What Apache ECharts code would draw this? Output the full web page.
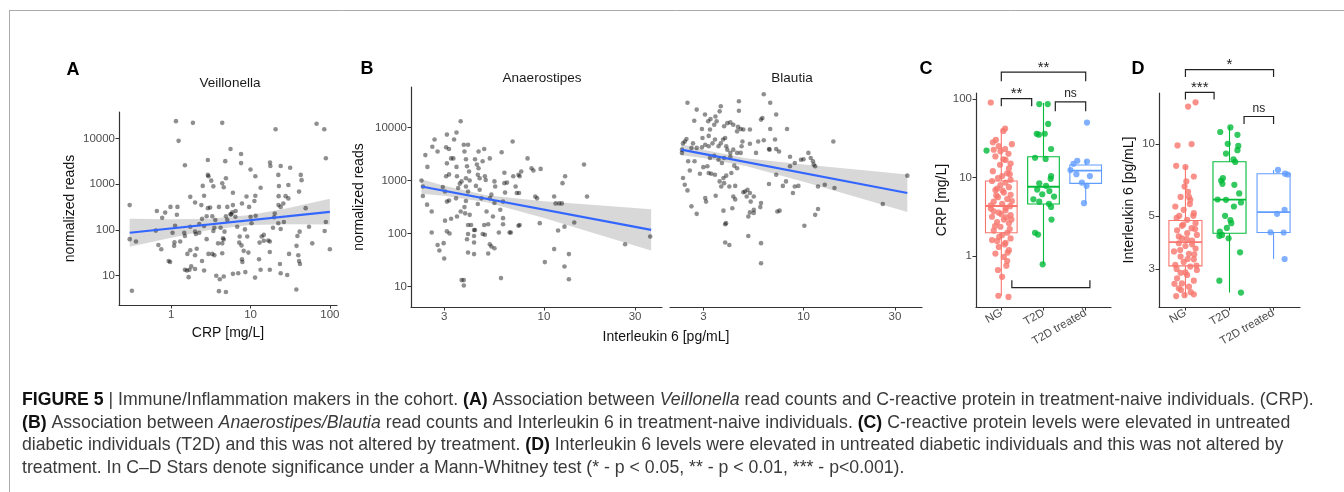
<!DOCTYPE html>
<html>
<head>
<meta charset="utf-8">
<script src="https://cdn.jsdelivr.net/npm/echarts@6/dist/echarts.min.js"></script>
<style>
  html, body { margin: 0; padding: 0; background: #fff; }
  #chart { width: 1344px; height: 492px; }
</style>
</head>
<body>
<div id="chart"></div>
<script>
// ---- data ----
// A: Veillonella reads vs CRP  [CRP mg/L, normalized reads]
const veillonellaPoints = [
  [0.30,350],[0.30,63],[0.36,56],[0.32,4.7],[1.15,24000],[1.88,22000],[4.4,22000],[1.24,8900],[20.7,16000],[68,21000],
  [85,16000],[89,3700],[5.6,5900],[7.6,4600],[1.49,2600],[2.9,3400],[4.8,3200],[7.6,2900],[10,2100],[11.5,1500],
  [17.6,3000],[17.8,2500],[24,2500],[31.6,2300],[2.9,1600],[2.95,1500],[3.2,1200],[3.4,900],[2.5,920],[1.74,530],
  [2.6,560],[4.4,1050],[4.6,860],[4.9,1350],[6.0,650],[8.9,540],[11.5,560],[13.4,840],[11.2,430],[9.6,320],
  [7.8,380],[6.0,350],[5.1,320],[5.9,245],[5.6,220],[6.5,260],[4.0,320],[3.1,310],[2.9,300],[2.4,350],
  [2.0,400],[1.2,320],[0.98,320],[1.18,215],[0.84,240],[0.66,260],[0.77,185],[0.64,97],[0.69,47],[0.75,38],
  [0.93,21],[0.97,20],[1.1,54],[1.04,87],[1.09,45],[1.3,56],[1.46,87],[1.49,74],[1.49,13.5],[1.58,13],
  [1.66,9.3],[1.7,13.5],[1.74,36],[1.6,30],[2.0,92],[2.05,82],[2.0,28],[2.1,39],[2.0,14],[2.45,21],
  [2.45,175],[2.6,122],[2.8,63],[2.6,13],[2.95,30],[3.3,30],[3.5,28],[3.7,10],[4.1,8.4],[4.6,9.6],
  [4.4,51],[4.5,66],[4.6,62],[4.7,92],[5.1,165],[4.9,200],[4.2,112],[3.9,51],[4.4,31],[4.0,4.6],
  [4.9,4.4],[6.0,11],[7.0,11.3],[7.3,72],[7.2,53],[7.7,46],[7.8,23],[7.9,20],[8.2,35],[8.5,103],
  [9.1,72],[9.4,32],[8.6,12],[11.4,9.1],[12.8,23],[13,53],[13.8,72],[14.7,78],[14.7,58],[13.4,13.5],
  [16.7,59],[17.5,56],[17.5,33],[17.5,13.5],[19.2,112],[19.8,190],[20.2,230],[22.5,350],[24,320],[25.9,380],
  [22.4,140],[24,105],[26.3,150],[23.5,18],[24,11.3],[29,10.4],[30.6,30],[30,490],[30,960],[22.8,910],
  [22.4,1600],[22.6,550],[27.7,550],[39,74],[41.6,92],[38,45],[40,28],[40.9,21],[42,18],[37.8,5.0],
  [40.9,690],[44,1230],[43,1600],[49.5,300],[54.6,118],[60,51],[86,95],[89,150],[100,38],[11.6,205],
  [10,195],[10.3,140],[6.45,195],[5.7,220],[6.8,118],[2.8,200],[3.3,200],[3.6,165],[3.5,112],[3.4,95],
  [2.26,135],[2.26,87],[1.74,118],[1.12,124],[1.79,16]
];
const veillonellaFit = [[0.3, 87], [100, 250]];
const veillonellaBandX = [0.3, 1, 3, 10, 30, 100];
const veillonellaBandLow = [43, 68, 100, 128, 134, 132];
const veillonellaBandHigh = [176, 172, 175, 212, 303, 479];

// B: Anaerostipes / Blautia reads vs IL-6  [IL-6 pg/mL, normalized reads]
const anaerostipesPoints = [
  [2.28,1000],[2.32,510],[2.32,770],[2.39,3000],[2.45,1800],[2.44,350],[2.58,260],[2.58,105],[2.6,4300],[2.67,5900],
  [2.77,3500],[2.77,61],[2.83,48],[3.0,34],[2.98,66],[3.1,7300],[3.07,4200],[3.18,3900],[3.1,2100],[3.26,2600],
  [3.07,1200],[3.18,1300],[2.95,750],[3.03,620],[3.1,400],[3.18,420],[3.03,175],[3.1,110],[3.2,100],[3.26,190],
  [3.38,5900],[3.48,8000],[3.35,2600],[3.48,1800],[3.5,1200],[3.55,720],[3.62,870],[3.46,460],[3.5,210],[3.66,260],
  [3.66,13000],[3.7,960],[3.7,13.3],[3.8,13.3],[3.8,10.5],[3.8,4700],[4.0,4700],[3.83,3500],[3.9,2500],[3.95,1850],
  [4.05,1470],[3.9,1100],[4.08,1000],[3.9,770],[4.0,620],[3.9,410],[3.83,315],[3.86,240],[4.08,225],[4.0,145],
  [4.15,145],[4.3,117],[4.35,117],[4.0,98],[3.95,78],[4.3,68],[4.3,90],[4.0,44],[4.3,41],[4.35,2500],
  [4.54,3500],[4.45,2000],[4.54,1700],[4.5,1280],[4.6,1100],[4.4,790],[4.6,670],[4.7,460],[4.5,360],[4.86,3900],
  [4.77,2300],[4.9,1200],[4.95,1020],[5.0,260],[5.1,150],[4.86,145],[4.77,98],[4.9,95],[5.1,42],[5.2,63],
  [5.3,57],[5.5,53],[5.2,2600],[5.3,540],[5.2,460],[5.4,210],[5.5,960],[5.55,770],[5.5,375],[5.8,105],
  [5.9,280],[5.95,14.5],[6.0,3400],[6.2,1400],[6.2,890],[6.25,590],[6.1,400],[6.1,195],[6.1,150],[6.4,910],
  [6.6,105],[6.7,105],[6.85,5400],[6.9,1200],[7.1,770],[7.2,580],[7.35,1280],[7.45,1200],[7.6,1470],[7.4,580],
  [7.45,145],[7.35,140],[8.2,2600],[8.8,1540],[8.6,1700],[9.6,1650],[9.0,500],[9.2,460],[9.5,157],[10.1,29],
  [11.3,500],[11.3,51],[11.5,370],[11.85,114],[12,370],[12.4,370],[12.8,24],[12.8,135],[12.5,890],[12.9,1200],
  [13.5,41],[13.5,13.8],[14.4,162],[16.2,2000],[16.8,500],[26.6,63],[36,88]
];
const anaerostipesFit = [[2.28, 770], [36.4, 117]];
const anaerostipesBandX = [2.28, 3, 5, 10, 20, 36.4];
const anaerostipesBandLow = [561, 515, 390, 196, 92, 48];
const anaerostipesBandHigh = [1059, 794, 524, 407, 337, 288];

const blautiaPoints = [
  [2.48,29000],[2.77,21600],[2.69,13300],[3.06,17500],[3.18,13000],[3.27,14400],[3.47,16000],[3.7,25000],[3.65,20000],[3.52,13000],
  [3.42,11200],[2.95,9300],[3.25,9100],[3.85,10500],[4.0,12000],[4.15,12400],[4.3,11200],[4.55,10200],[4.7,9300],[4.85,9100],
  [4.5,8400],[4.6,31000],[4.6,20500],[5.25,9100],[6.2,42000],[6.7,29000],[7.2,17500],[6.7,9300],[6.0,14000],[6.1,15000],
  [8.2,9300],[7.1,5900],[7.2,3900],[7.45,3500],[6.6,3900],[6.65,3800],[6.2,5700],[5.8,5400],[5.65,3300],[5.25,4900],
  [4.8,5400],[4.75,4400],[4.7,3300],[4.5,3300],[4.3,3800],[4.15,3300],[4.0,3800],[3.95,4400],[3.8,5900],[3.9,6300],
  [3.7,5000],[3.6,4400],[3.45,5900],[3.35,5000],[3.2,4400],[3.07,4700],[2.95,4200],[2.77,4100],[2.65,5000],[2.45,6000],
  [2.4,5400],[2.35,5000],[2.32,3800],[2.32,3300],[2.6,4100],[2.97,6300],[3.2,6900],[2.5,2300],[2.7,2300],[3.0,1780],
  [3.15,1850],[3.25,2650],[3.42,2900],[3.6,2450],[3.75,2130],[3.85,2650],[4.15,2800],[4.35,1900],[4.5,1700],[4.2,1380],
  [3.95,1230],[3.82,1110],[3.2,1380],[2.88,1340],[2.55,1540],[2.35,1110],[2.4,830],[2.48,650],[3.3,1340],[3.45,1280],
  [3.65,960],[3.72,770],[3.85,890],[4.1,770],[4.4,790],[4.3,500],[4.4,440],[4.85,600],[4.95,620],[5.1,670],
  [5.25,580],[5.5,500],[5.05,500],[5.3,400],[5.5,280],[5.5,245],[5.25,250],[5.15,210],[6.0,375],[5.95,315],
  [6.6,860],[7.2,1280],[7.5,270],[7.3,260],[7.8,790],[8.1,960],[8.5,2800],[9.0,2130],[8.5,1850],[8.8,580],
  [9.0,770],[9.4,790],[9.7,2450],[10,2500],[10.6,3300],[10.9,2650],[11.2,2300],[11.5,1850],[11.3,2000],[11.9,770],
  [12.9,830],[14.5,720],[11.9,290],[11.5,225],[10.1,140],[14.3,5400],[25.9,360],[34.8,1230],[6.0,66],[5.15,90],
  [3.94,157],[3.9,150],[3.9,68],[4.1,61],[3.82,270],[4.25,300],[2.77,235],[2.6,325],[3.07,465],[3.1,400],
  [3.48,515],[6.0,27.6]
];
const blautiaFit = [[2.3, 3800], [34.8, 580]];
const blautiaBandX = [2.3, 3, 5, 10, 20, 34.8];
const blautiaBandLow = [2970, 2650, 1880, 946, 457, 254];
const blautiaBandHigh = [4860, 3770, 2620, 1990, 1570, 1300];

// C / D: groups, jitter offset from group centre + measured value
const groups = ['NG', 'T2D', 'T2D treated'];
const groupColors = ['#F8766D', '#00BA38', '#619CFF'];

const crpNG = [
  [-0.25,90],[0.09,42],[0.05,39],[-0.13,30],[0.25,26.5],[-0.06,25],[0.09,23],[-0.18,22.5],[-0.02,21.5],[-0.14,18.5],
  [0.1,16.7],[0.22,15],[-0.03,14.5],[0.18,13],[0.14,11.3],[0.02,10.4],[-0.08,9.8],[0.22,9.3],[0.1,8.6],[-0.02,8],
  [0.18,7.5],[-0.14,6.9],[0.06,6.4],[0.22,6.0],[-0.08,5.6],[0.14,5.3],[-0.18,4.9],[0.02,4.6],[0.21,4.3],[-0.25,4.0],
  [0.1,3.8],[-0.06,3.55],[0.22,3.3],[-0.22,3.15],[0.06,2.9],[-0.1,2.7],[0.18,2.6],[-0.02,2.35],[-0.18,2.1],[0.14,1.97],
  [0.02,1.84],[0.22,1.67],[-0.22,1.59],[0.1,1.47],[-0.06,1.3],[0.18,1.18],[-0.14,1.07],[0.06,0.97],[0.14,0.86],[-0.08,0.66],
  [0.02,0.54],[-0.07,0.31],[0.17,0.30],[-0.2,12],[0.05,17],[-0.1,7.2],[0.25,5],[-0.25,4.4],[0.12,3.1],[-0.15,2.4],
  [0.2,2.2],[-0.05,1.75],[0.15,1.1],[-0.2,28],[0.2,11],[-0.12,5.9],[0.1,4.1],[0.0,3.4],[-0.18,3.7],[0.24,2.9],
  [0.08,1.4],[-0.1,1.55],[0.03,6.8],[0.17,20],[-0.22,9],[0.12,0.75]
];
const crpT2D = [
  [-0.1,86],[0.1,86],[-1.35,22],[0.11,48],[-0.16,36],[0.03,36],[-0.11,35],[0.18,23],[-0.2,17.8],[0.05,17.2],
  [0.18,10.4],[0.17,9.6],[-0.1,8.4],[0.06,7.8],[-0.15,7.0],[0.14,6.7],[-0.03,6.1],[0.25,5.7],[-0.24,5.25],[-0.1,4.9],
  [0.13,4.6],[0.18,4.2],[0.19,2.9],[-0.2,1.97],[-0.13,1.87],[-0.02,0.78]
];
const crpTreated = [
  [0.03,50],[-0.2,16.3],[0.03,15.9],[-0.29,14.9],[-0.36,12.4],[-0.22,11],[0.1,10.4],[-0.09,8.6],[0.02,7.8],[-0.04,4.7]
];
// [group, lower whisker, Q1, median, Q3, upper whisker]
const crpBoxes = [
  [0, 0.31, 1.97, 4.32, 9.0, 42],
  [1, 0.78, 4.58, 7.6, 18.3, 89],
  [2, 4.7, 8.4, 12.2, 14.4, 16.5]
];
// [from, to, bar level, tip level, label]
const crpBrackets = [
  [0, 2, 219, 168, '**'],
  [0, 0.72, 101, 80.5, '**'],
  [1.28, 2, 91.6, 69.5, 'ns'],
  [0.25, 2.1, 0.394, 0.489, '']
];

const il6NG = [
  [0.06,14.3],[0.23,14.9],[-0.18,9.84],[0.14,9.97],[-0.21,8.09],[0,8.0],[0.19,7.3],[0.02,6.96],[-0.02,6.63],[0.06,6.3],
  [-0.11,6.0],[0.11,5.83],[-0.23,5.47],[-0.04,5.3],[0.19,5.13],[-0.14,5.0],[0.04,4.81],[0.23,4.66],[-0.08,4.54],[0.14,4.44],
  [-0.19,4.35],[0.04,4.23],[0.26,4.16],[-0.08,4.03],[0.15,3.94],[-0.15,3.84],[0,3.74],[0.23,3.65],[-0.26,3.55],[0.08,3.47],
  [-0.11,3.38],[0.19,3.29],[-0.04,3.21],[-0.23,3.12],[0.11,3.07],[0.26,2.97],[-0.11,2.89],[0.04,2.83],[-0.19,2.74],[0.19,2.68],
  [-0.08,2.61],[0.08,2.53],[-0.21,2.31],[-0.02,2.33],[0.19,2.35],[-0.15,2.49],[0.1,5.6],[-0.2,4.9],[0.22,4.4],[-0.05,4.6],
  [0.15,3.8],[-0.12,3.6],[0.05,3.3],[-0.2,3.0],[0.25,3.1],[0.0,2.9],[-0.15,4.1],[0.18,5.0],[-0.1,2.45],[0.12,2.4],
  [-0.25,2.6],[0.08,6.0],[0.03,4.0],[0.2,3.45]
];
const il6T2D = [
  [0.02,11.7],[-0.21,11.2],[0.18,10.9],[-0.04,10.0],[0.2,9.8],[0.18,9.4],[-0.08,9.1],[0.09,8.6],[0.13,8.4],[-0.15,7.18],
  [-0.19,7.02],[-0.16,6.8],[0.11,6.74],[0.22,6.2],[-0.27,5.85],[-0.08,5.83],[0.26,5.69],[0.1,5.47],[-0.1,5.0],[0.02,4.8],
  [0.04,4.66],[-0.06,4.45],[-0.22,4.3],[-0.17,4.16],[-0.02,4.03],[-0.23,4.12],[0.24,3.52],[-0.23,2.68],[0.26,2.39]
];
const il6Treated = [
  [0.1,7.78],[0.26,7.5],[0.32,7.44],[0.25,5.3],[0.08,5.1],[-0.07,4.27],[0.23,4.26],[0.25,3.30]
];
const il6Boxes = [
  [0, 2.30, 3.09, 3.88, 4.78, 8.09],
  [1, 2.39, 4.23, 5.84, 8.41, 11.8],
  [2, 3.30, 4.26, 5.18, 7.50, 7.78]
];
const il6Brackets = [
  [0, 2, 20.4, 19.0, '*'],
  [0, 0.65, 16.4, 15.3, '***'],
  [1.33, 2, 13.0, 12.1, 'ns']
];

// axis ranges and tick labels
const crpRangeA = [0.22, 123];
const readsRangeA = [2.29, 38000];
const il6RangeB = [2.01, 41.5];
const readsRangeB = [4.14, 57500];
const crpRangeC = [0.223, 119];
const il6RangeD = [2.08, 16.3];
const crpTicksA = [1, 10, 100];
const readsTicks = [10, 100, 1000, 10000];
const il6TicksB = [3, 10, 30];
const crpTicksC = [1, 10, 100];
const il6TicksD = [3, 5, 10];

// ---- helpers ----
const lg = Math.log10;
const AXIS = '#333';
const TICKLABEL = '#4d4d4d';
const FONT = "'Liberation Sans', Arial, sans-serif";
const CAPSIZE = 17.7;

function fmtLog(v) {
  return String(Math.round(Math.pow(10, v) * 100) / 100);
}

function logAxis(gi, range, ticks, extra) {
  const vals = ticks.map(lg);
  return Object.assign({
    type: 'value',
    gridIndex: gi,
    min: lg(range[0]),
    max: lg(range[1]),
    splitLine: { show: false },
    axisLine: { onZero: false, lineStyle: { color: AXIS, width: 1.2 } },
    axisTick: { customValues: vals, length: 3.5, lineStyle: { color: AXIS } },
    axisLabel: { customValues: vals, formatter: fmtLog, color: TICKLABEL, fontSize: 11.5, fontFamily: FONT, margin: 4 },
    nameLocation: 'middle',
    nameTextStyle: { fontSize: 14, color: '#111', fontFamily: FONT }
  }, extra || {});
}

function groupAxis(gi) {
  const vals = [0, 1, 2];
  return {
    type: 'value', gridIndex: gi, min: -0.6, max: 2.6,
    splitLine: { show: false },
    axisLine: { onZero: false, lineStyle: { color: AXIS, width: 1.2 } },
    axisTick: { customValues: vals, length: 3.5, lineStyle: { color: AXIS } },
    axisLabel: {
      customValues: vals, formatter: v => groups[Math.round(v)], rotate: 30,
      color: TICKLABEL, fontSize: 11.5, fontFamily: FONT, margin: 5
    }
  };
}

function scatter(gi, pts) {
  return {
    type: 'scatter', xAxisIndex: gi, yAxisIndex: gi, silent: true, z: 3,
    symbolSize: 4.6, itemStyle: { color: 'rgba(0,0,0,0.55)' },
    data: pts.map(p => [lg(p[0]), lg(p[1])])
  };
}

function fitLine(gi, pts) {
  return {
    type: 'line', xAxisIndex: gi, yAxisIndex: gi, silent: true, z: 4,
    symbol: 'none', lineStyle: { color: '#3366FF', width: 2.2 },
    data: pts.map(p => [lg(p[0]), lg(p[1])])
  };
}

function band(gi, xs, lo, hi) {
  const pts = xs.map((x, i) => [lg(x), lg(lo[i]), lg(hi[i])]);
  return {
    type: 'custom', xAxisIndex: gi, yAxisIndex: gi, silent: true, z: 2, clip: false,
    data: pts,
    renderItem(params, api) {
      if (params.dataIndex !== 0) return null;
      const top = pts.map(p => api.coord([p[0], p[2]]));
      const bot = pts.map(p => api.coord([p[0], p[1]])).reverse();
      return { type: 'polygon', shape: { points: top.concat(bot) }, style: { fill: 'rgba(153,153,153,0.38)' } };
    }
  };
}

function jitter(gi, g, pts) {
  return {
    type: 'scatter', xAxisIndex: gi, yAxisIndex: gi, silent: true, z: 4,
    symbolSize: 6.2, itemStyle: { color: groupColors[g] },
    data: pts.map(p => [g + p[0], lg(p[1])])
  };
}

function boxes(gi, stats) {
  return {
    type: 'custom', xAxisIndex: gi, yAxisIndex: gi, silent: true, z: 3, clip: false,
    data: stats.map(s => [s[0], lg(s[1]), lg(s[2]), lg(s[3]), lg(s[4]), lg(s[5])]),
    renderItem(params, api) {
      const x = api.value(0);
      const c = groupColors[x];
      const half = api.size([0.75, 0])[0] / 2;
      const p = [1, 2, 3, 4, 5].map(k => api.coord([x, api.value(k)]));
      const cx = p[0][0];
      const ls = { stroke: c, lineWidth: 1.1, fill: null };
      return {
        type: 'group',
        children: [
          { type: 'line', shape: { x1: cx, y1: p[0][1], x2: cx, y2: p[1][1] }, style: ls },
          { type: 'line', shape: { x1: cx, y1: p[3][1], x2: cx, y2: p[4][1] }, style: ls },
          { type: 'rect', shape: { x: cx - half, y: p[3][1], width: half * 2, height: p[1][1] - p[3][1] },
            style: { stroke: c, lineWidth: 1.1, fill: '#fff' } },
          { type: 'line', shape: { x1: cx - half, y1: p[2][1], x2: cx + half, y2: p[2][1] },
            style: { stroke: c, lineWidth: 1.8 } }
        ]
      };
    }
  };
}

function brackets(gi, list) {
  return {
    type: 'custom', xAxisIndex: gi, yAxisIndex: gi, silent: true, z: 5, clip: false,
    data: list.map(b => [b[0], b[1], lg(b[2]), lg(b[3])]),
    renderItem(params, api) {
      const label = list[params.dataIndex][4];
      const a = api.coord([api.value(0), api.value(3)]);
      const b = api.coord([api.value(0), api.value(2)]);
      const c = api.coord([api.value(1), api.value(2)]);
      const d = api.coord([api.value(1), api.value(3)]);
      const children = [{
        type: 'polyline', shape: { points: [a, b, c, d] },
        style: { stroke: '#222', lineWidth: 1.2, fill: null }
      }];
      if (label) {
        children.push({
          type: 'text',
          style: {
            text: label, x: (b[0] + c[0]) / 2, y: b[1] - (label === 'ns' ? 2 : -3),
            align: 'center', verticalAlign: 'bottom',
            fontSize: label === 'ns' ? 12 : 15, fontFamily: FONT, fill: '#222'
          }
        });
      }
      return { type: 'group', children };
    }
  };
}

function txt(x, y, text, size, opts) {
  return {
    type: 'text', x, y, silent: true,
    style: Object.assign({
      text, fontSize: size, fontFamily: FONT, fill: '#111', align: 'center', verticalAlign: 'middle'
    }, opts || {})
  };
}

// caption lines, rich text
const capRich = {
  b: { fontWeight: 'bold', fill: '#111', fontSize: CAPSIZE, fontFamily: FONT },
  i: { fontStyle: 'italic', fill: '#3a3a3a', fontSize: CAPSIZE, fontFamily: FONT }
};
const captionLines = [
  '{b|FIGURE 5} | Immune/Inflammation makers in the cohort. {b|(A)} Association between {i|Veillonella} read counts and C-reactive protein in treatment-naive individuals. (CRP).',
  '{b|(B)} Association between {i|Anaerostipes/Blautia} read counts and Interleukin 6 in treatment-naive individuals. {b|(C)} C-reactive protein levels were elevated in untreated',
  'diabetic individuals (T2D) and this was not altered by treatment. {b|(D)} Interleukin 6 levels were elevated in untreated diabetic individuals and this was not altered by',
  'treatment. In C\u2013D Stars denote significance under a Mann-Whitney test (* - p < 0.05, ** - p < 0.01, *** - p<0.001).'
];
const captionY = [400, 423, 445, 468];

const chart = echarts.init(document.getElementById('chart'), null, { renderer: 'canvas' });

const option = {
  backgroundColor: '#fff',
  animation: false,
  textStyle: { fontFamily: FONT },
  grid: [
    { left: 119, top: 112, width: 218, height: 193, outerBoundsMode: 'none' },
    { left: 411, top: 87, width: 251, height: 220, outerBoundsMode: 'none' },
    { left: 670, top: 87, width: 252, height: 220, outerBoundsMode: 'none' },
    { left: 976, top: 93, width: 135, height: 214, outerBoundsMode: 'none' },
    { left: 1159, top: 93, width: 141, height: 214, outerBoundsMode: 'none' }
  ],
  xAxis: [
    logAxis(0, crpRangeA, crpTicksA, { name: 'CRP [mg/L]', nameGap: 21 }),
    logAxis(1, il6RangeB, il6TicksB),
    logAxis(2, il6RangeB, il6TicksB),
    groupAxis(3),
    groupAxis(4)
  ],
  yAxis: [
    logAxis(0, readsRangeA, readsTicks, { name: 'normalized reads', nameGap: 42 }),
    logAxis(1, readsRangeB, readsTicks, { name: 'normalized reads', nameGap: 45 }),
    logAxis(2, readsRangeB, readsTicks, { show: false }),
    logAxis(3, crpRangeC, crpTicksC, { name: 'CRP [mg/L]', nameGap: 27 }),
    logAxis(4, il6RangeD, il6TicksD, { name: 'Interleukin 6 [pg/mL]', nameGap: 23 })
  ],
  series: [
    band(0, veillonellaBandX, veillonellaBandLow, veillonellaBandHigh),
    scatter(0, veillonellaPoints),
    fitLine(0, veillonellaFit),
    band(1, anaerostipesBandX, anaerostipesBandLow, anaerostipesBandHigh),
    scatter(1, anaerostipesPoints),
    fitLine(1, anaerostipesFit),
    band(2, blautiaBandX, blautiaBandLow, blautiaBandHigh),
    scatter(2, blautiaPoints),
    fitLine(2, blautiaFit),
    boxes(3, crpBoxes),
    jitter(3, 0, crpNG),
    jitter(3, 1, crpT2D),
    jitter(3, 2, crpTreated),
    brackets(3, crpBrackets),
    boxes(4, il6Boxes),
    jitter(4, 0, il6NG),
    jitter(4, 1, il6T2D),
    jitter(4, 2, il6Treated),
    brackets(4, il6Brackets)
  ],
  graphic: [
    { type: 'line', silent: true, shape: { x1: 9, y1: 10.5, x2: 1344, y2: 10.5 }, style: { stroke: '#aaa', lineWidth: 1 } },
    { type: 'line', silent: true, shape: { x1: 9.5, y1: 10, x2: 9.5, y2: 492 }, style: { stroke: '#aaa', lineWidth: 1 } },
    txt(73, 70, 'A', 18, { fontWeight: 'bold', fill: '#000' }),
    txt(367, 69, 'B', 18, { fontWeight: 'bold', fill: '#000' }),
    txt(926, 69, 'C', 18, { fontWeight: 'bold', fill: '#000' }),
    txt(1138, 69, 'D', 18, { fontWeight: 'bold', fill: '#000' }),
    txt(230, 83, 'Veillonella', 13.5, { fill: '#1a1a1a' }),
    txt(542, 78, 'Anaerostipes', 13.5, { fill: '#1a1a1a' }),
    txt(792, 78, 'Blautia', 13.5, { fill: '#1a1a1a' }),
    txt(666, 337, 'Interleukin 6 [pg/mL]', 14),
    ...captionLines.map((line, i) => ({
      type: 'text', x: 22, y: captionY[i], silent: true,
      style: {
        text: line, rich: capRich, fontSize: CAPSIZE, fontFamily: FONT, fill: '#3a3a3a',
        align: 'left', verticalAlign: 'middle'
      }
    }))
  ]
};

chart.setOption(option);
</script>
</body>
</html>
